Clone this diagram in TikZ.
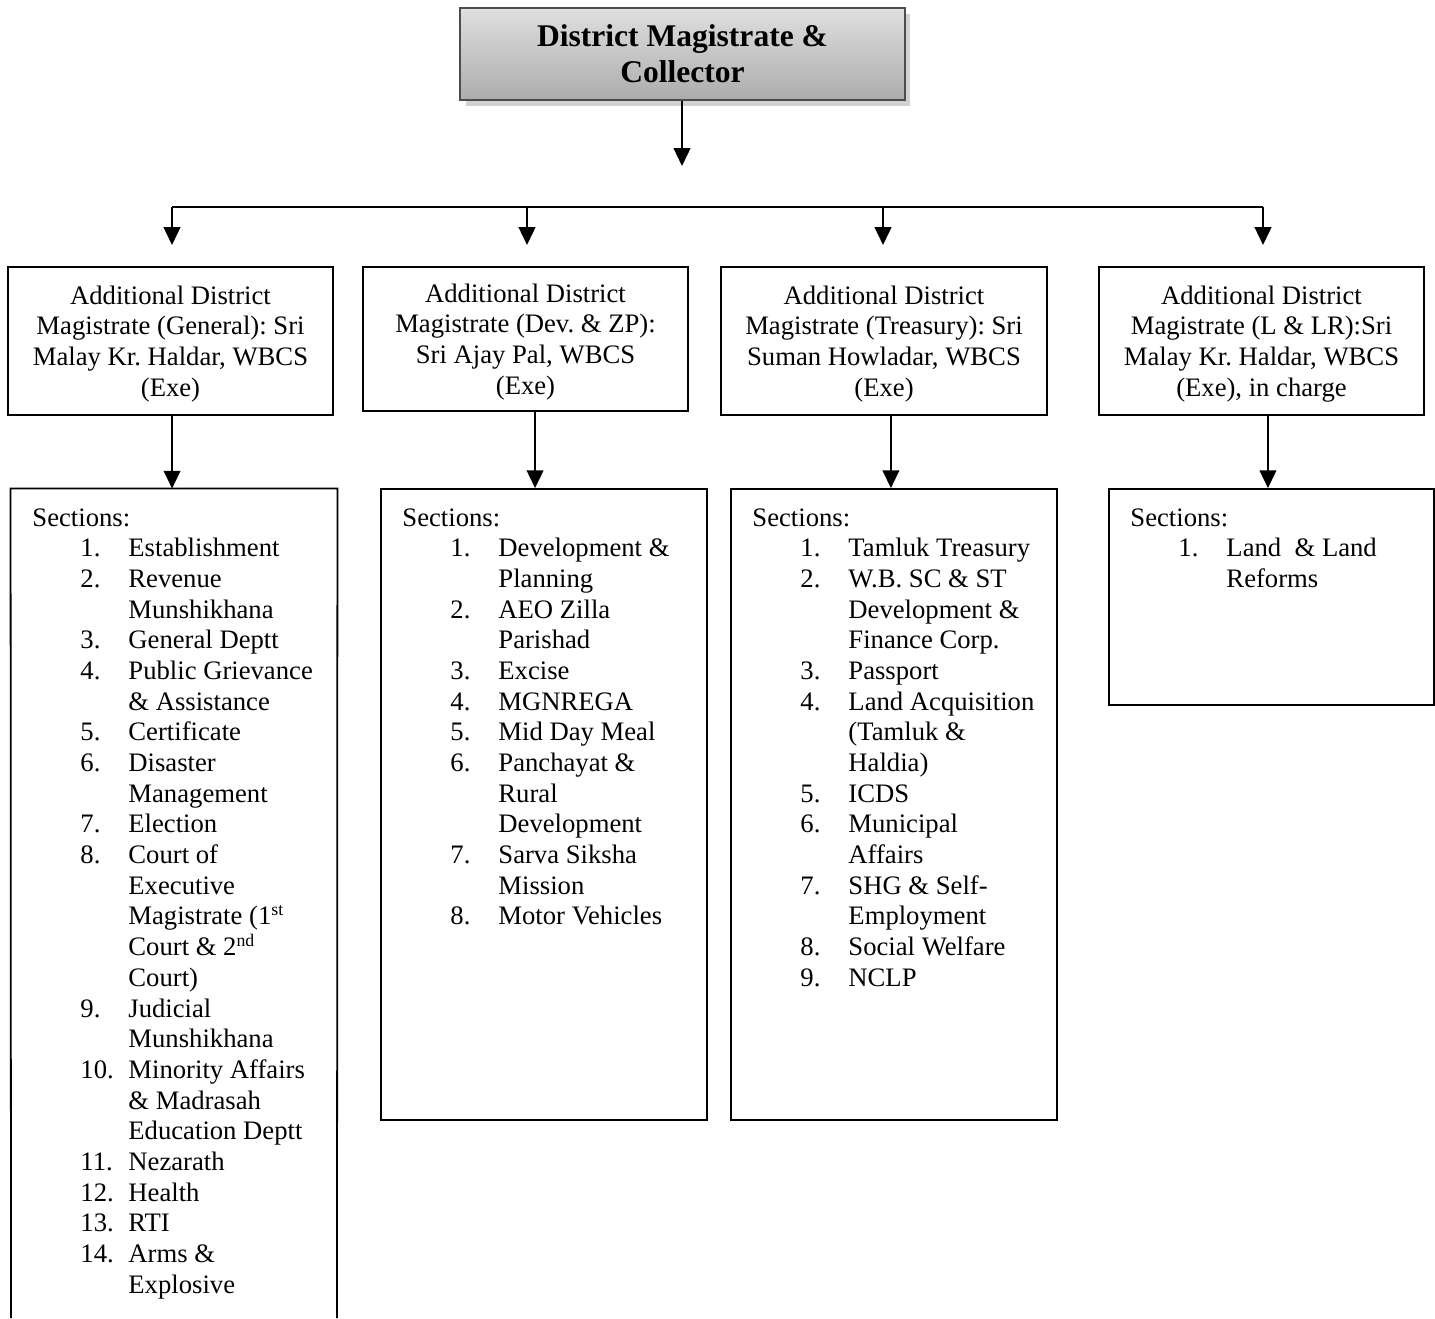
\documentclass[tikz,border=0pt]{standalone}
\usepackage{fontspec}
\setmainfont{Liberation Serif}
\frenchspacing
\usetikzlibrary{arrows.meta,calc}
\newcommand\seclist[1]{\begin{tabular}[t]{@{}p{21.6pt}@{}p{21.6pt}@{}l@{}}\multicolumn{3}{@{}l@{}}{Sections:}\\#1\end{tabular}}
\tikzset{
  txt/.style={font=\fontsize{12}{13.8}\selectfont},
  admbox/.style={txt,draw,line width=0.8pt,align=center,inner sep=0pt,minimum width=146.25pt,minimum height=66.6pt,text depth=-1.2pt},
  secbox/.style={draw,line width=0.8pt,inner sep=0pt,minimum width=146.7pt},
  sectext/.style={txt,anchor=base west,inner sep=0pt},
  arr/.style={line width=0.8pt,-{Triangle[length=8pt,width=7.5pt]}},
  ln/.style={line width=0.8pt},
}
\begin{document}
\begin{tikzpicture}[x=0.45pt,y=-0.45pt]
\useasboundingbox (0,0) rectangle (1435,1318);
% top box with shadow
\fill[gray!35] (466,14) rectangle (910,106);
\node[draw=black!70,line width=1.2pt,top color=gray!25,bottom color=gray!65,minimum width=200.25pt,minimum height=41.4pt,inner sep=0pt,align=center,font=\fontsize{14.2}{16.2}\selectfont\bfseries] (dm) at (682.5,54) {\raisebox{-0.9pt}{\shortstack{District Magistrate \&\\[0.3pt]Collector}}};
\coordinate (dmend) at (682,166);
\draw[arr] (dm.south -| dmend) -- (dmend);
% ADM boxes
\node[admbox] (adm1) at (170.5,341) {Additional District\\Magistrate (General): Sri\\Malay Kr. Haldar, WBCS\\(Exe)};
\node[admbox,minimum height=64.8pt] (adm2) at (525.5,339) {Additional District\\Magistrate (Dev. \& ZP):\\Sri Ajay Pal, WBCS\\(Exe)};
\node[admbox,minimum width=146.7pt] (adm3) at (884,341) {Additional District\\Magistrate (Treasury): Sri\\Suman Howladar, WBCS\\(Exe)};
\node[admbox] (adm4) at (1261.5,341) {Additional District\\Magistrate (L \& LR):Sri\\Malay Kr. Haldar, WBCS\\(Exe), in charge};
% horizontal distribution line
\coordinate (h1) at (172,207);
\coordinate (h2) at (527,207);
\coordinate (h3) at (883,207);
\coordinate (h4) at (1263,207);
\draw[ln] (h1) -- (h4);
\draw[arr] (h1) -- (h1 |- 0,245);
\draw[arr] (h2) -- (h2 |- 0,245);
\draw[arr] (h3) -- (h3 |- 0,245);
\draw[arr] (h4) -- (h4 |- 0,245);
% Section boxes
\node[minimum width=146.7pt,minimum height=370.35pt,inner sep=0pt] (sec1) at (174,900.5) {};
\draw[ln] (11,1318) -- (sec1.north west) -- (sec1.north east) -- (337,1318);
\node[secbox,minimum height=283.95pt] (sec2) at (544,804.5) {};
\node[secbox,minimum height=283.95pt] (sec3) at (894,804.5) {};
\node[secbox,minimum width=146.25pt,minimum height=97.2pt] (sec4) at (1271.5,597) {};
% ADM -> sections
\draw[arr] ([xshift=0.7pt]adm1.south) -- ([xshift=0.7pt]adm1.south |- sec1.north);
\draw[arr] ([xshift=4.3pt]adm2.south) -- ([xshift=4.3pt]adm2.south |- sec2.north);
\draw[arr] ([xshift=3.1pt]adm3.south) -- ([xshift=3.1pt]adm3.south |- sec3.north);
\draw[arr] ([xshift=2.9pt]adm4.south) -- ([xshift=2.9pt]adm4.south |- sec4.north);
% section texts
\node[sectext] (l1) at (32,526) {\seclist{
 & 1. & Establishment\\
 & 2. & Revenue\\
 & & Munshikhana\\
 & 3. & General Deptt\\
 & 4. & Public Grievance\\
 & & \& Assistance\\
 & 5. & Certificate\\
 & 6. & Disaster\\
 & & Management\\
 & 7. & Election\\
 & 8. & Court of\\
 & & Executive\\
 & & Magistrate (1\textsuperscript{st}\\
 & & Court \& 2\textsuperscript{nd}\\
 & & Court)\\
 & 9. & Judicial\\
 & & Munshikhana\\
 & 10. & Minority Affairs\\
 & & \& Madrasah\\
 & & Education Deptt\\
 & 11. & Nezarath\\
 & 12. & Health\\
 & 13. & RTI\\
 & 14. & Arms \&\\
 & & Explosive}};
\node[sectext] (l2) at (402,526) {\seclist{
 & 1. & Development \&\\
 & & Planning\\
 & 2. & AEO Zilla\\
 & & Parishad\\
 & 3. & Excise\\
 & 4. & MGNREGA\\
 & 5. & Mid Day Meal\\
 & 6. & Panchayat \&\\
 & & Rural\\
 & & Development\\
 & 7. & Sarva Siksha\\
 & & Mission\\
 & 8. & Motor Vehicles}};
\node[sectext] (l3) at (752,526) {\seclist{
 & 1. & Tamluk Treasury\\
 & 2. & W.B. SC \& ST\\
 & & Development \&\\
 & & Finance Corp.\\
 & 3. & Passport\\
 & 4. & Land Acquisition\\
 & & (Tamluk \&\\
 & & Haldia)\\
 & 5. & ICDS\\
 & 6. & Municipal\\
 & & Affairs\\
 & 7. & SHG \& Self-\\
 & & Employment\\
 & 8. & Social Welfare\\
 & 9. & NCLP}};
\node[sectext] (l4) at (1130,526) {\seclist{
 & 1. & Land\ \ \& Land\\
 & & Reforms}};
\end{tikzpicture}
\end{document}
